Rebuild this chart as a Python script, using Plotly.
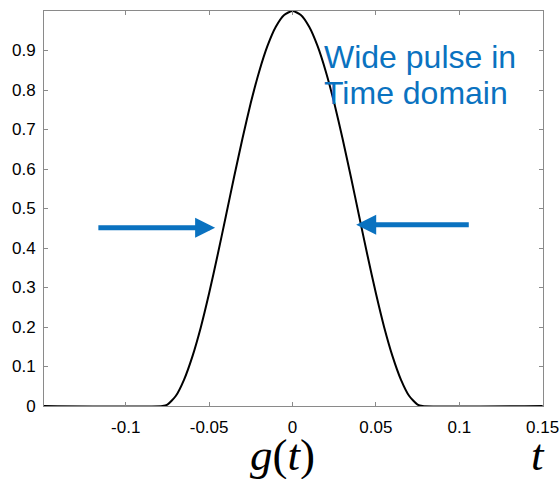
import plotly.graph_objects as go

# Pulse samples (t, g(t))
t_vals = [-0.149, -0.078, -0.075, -0.070, -0.065, -0.060, -0.055, -0.050, -0.045, -0.040,
          -0.035, -0.030, -0.025, -0.020, -0.015, -0.010, -0.005, 0.0,
          0.005, 0.010, 0.015, 0.020, 0.025, 0.030, 0.035, 0.040, 0.045,
          0.050, 0.055, 0.060, 0.065, 0.070, 0.075, 0.078, 0.150]
g_vals = [0.0, 0.0, 0.0036, 0.0253, 0.0670, 0.1257, 0.1990, 0.2853, 0.3803, 0.4798,
          0.5803, 0.6773, 0.7675, 0.8464, 0.9115, 0.9600, 0.9899, 1.0,
          0.9899, 0.9600, 0.9115, 0.8464, 0.7675, 0.6773, 0.5803, 0.4798, 0.3803,
          0.2853, 0.1990, 0.1257, 0.0670, 0.0253, 0.0036, 0.0, 0.0]

x_ticks = [-0.1, -0.05, 0, 0.05, 0.1, 0.15]
x_tick_labels = ["-0.1", "-0.05", "0", "0.05", "0.1", "0.15"]
y_ticks = [0, 0.1, 0.2, 0.3, 0.4, 0.5, 0.6, 0.7, 0.8, 0.9]
y_tick_labels = ["0", "0.1", "0.2", "0.3", "0.4", "0.5", "0.6", "0.7", "0.8", "0.9"]

note_lines = ["Wide pulse in", "Time domain"]
blue = "#0a72c0"
serif = "'Liberation Serif', 'Times New Roman', Times, serif"

fig = go.Figure()
fig.add_trace(go.Scatter(x=t_vals, y=g_vals, mode="lines",
                         line=dict(color="black", width=2, shape="spline", smoothing=0.6),
                         showlegend=False, hoverinfo="skip"))

axis_common = dict(showgrid=False, zeroline=False, showline=True, linecolor="#8a8a8a",
                   linewidth=1, mirror="ticks", ticks="inside", ticklen=4, tickcolor="#8a8a8a",
                   ticklabeloverflow="allow", automargin=False,
                   tickfont=dict(family="Liberation Sans, Arial", size=17, color="black"))

fig.update_xaxes(range=[-0.149, 0.1502], tickvals=x_ticks, ticktext=x_tick_labels,
                 ticklabelstandoff=6, **axis_common)
fig.update_yaxes(range=[0, 1], tickvals=y_ticks, ticktext=y_tick_labels,
                 ticklabelstandoff=4, **axis_common)

for line_text, ypos in zip(note_lines, [0.883, 0.792]):
    fig.add_annotation(x=0.0178, y=ypos, xref="x", yref="y", text=line_text,
                       showarrow=False, xanchor="left", yanchor="middle", align="left",
                       font=dict(family="Liberation Sans, Arial", size=32, color=blue))

# Arrows pointing at the pulse width
fig.add_annotation(x=-0.0464, y=0.451, ax=-0.1173, ay=0.451, xref="x", yref="y",
                   axref="x", ayref="y", text="", showarrow=True, arrowhead=2,
                   arrowsize=0.8, arrowwidth=5, arrowcolor=blue)
fig.add_annotation(x=0.0382, y=0.459, ax=0.1066, ay=0.459, xref="x", yref="y",
                   axref="x", ayref="y", text="", showarrow=True, arrowhead=2,
                   arrowsize=0.8, arrowwidth=5, arrowcolor=blue)

# Axis labels
fig.add_annotation(x=-0.0058, y=-0.125, xref="x", yref="paper",
                   text="<span style='font-style:italic'>g</span>(<span style='font-style:italic'>t</span>)",
                   showarrow=False, xanchor="center", yanchor="middle",
                   font=dict(family=serif, size=45, color="black"))
fig.add_annotation(x=0.1472, y=-0.123, xref="x", yref="paper",
                   text="<span style='font-style:italic'>t</span>",
                   showarrow=False, xanchor="center", yanchor="middle",
                   font=dict(family=serif, size=45, color="black"))

fig.update_layout(width=559, height=479, margin=dict(l=44, r=16, t=11, b=73, autoexpand=False),
                  plot_bgcolor="white", paper_bgcolor="white")

fig.write_html("out.html")
